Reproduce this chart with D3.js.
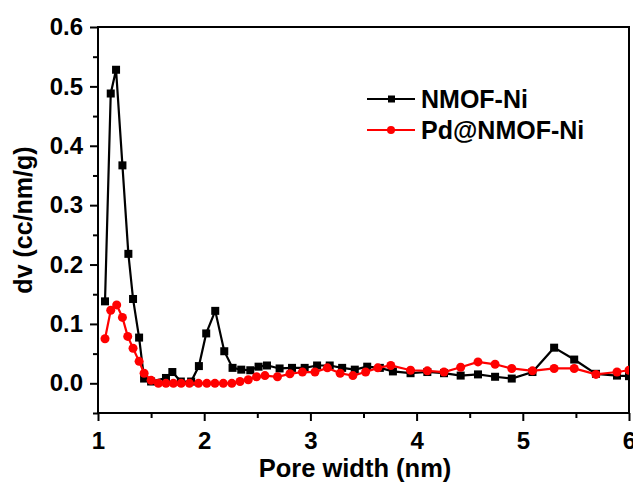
<!DOCTYPE html>
<html>
<head>
<meta charset="utf-8">
<script src="https://cdn.jsdelivr.net/npm/d3@7"></script>
<style>
  body { margin: 0; background: #fff; }
  svg { display: block; }
  text { font-family: "Liberation Sans", Arial, sans-serif; font-weight: bold; fill: #000; }
</style>
</head>
<body>
<svg width="633" height="500"></svg>
<script>
// pore size distribution
const xNmof = [1.066, 1.12, 1.17, 1.23, 1.286, 1.33, 1.387, 1.434, 1.5, 1.64, 1.70, 1.78, 1.877, 1.95, 2.019, 2.104, 2.189, 2.267, 2.349, 2.434, 2.512, 2.591, 2.71, 2.827, 2.946, 3.063, 3.182, 3.299, 3.418, 3.535, 3.654, 3.777, 3.943, 4.101, 4.258, 4.415, 4.578, 4.739, 4.896, 5.091, 5.295, 5.484, 5.689, 5.887, 6.0];
const yNmof = [0.138, 0.488, 0.528, 0.367, 0.218, 0.142, 0.077, 0.008, 0.003, 0.009, 0.019, 0.003, 0.003, 0.029, 0.084, 0.122, 0.054, 0.026, 0.023, 0.022, 0.028, 0.030, 0.025, 0.026, 0.026, 0.030, 0.030, 0.026, 0.023, 0.028, 0.026, 0.020, 0.017, 0.019, 0.017, 0.013, 0.015, 0.011, 0.008, 0.019, 0.060, 0.040, 0.016, 0.013, 0.012];

const xPd = [1.066, 1.12, 1.176, 1.23, 1.28, 1.33, 1.387, 1.434, 1.5, 1.569, 1.64, 1.71, 1.783, 1.861, 1.946, 2.025, 2.101, 2.18, 2.26, 2.337, 2.415, 2.493, 2.572, 2.69, 2.807, 2.925, 3.043, 3.16, 3.28, 3.4, 3.52, 3.635, 3.757, 3.943, 4.101, 4.258, 4.415, 4.578, 4.739, 4.896, 5.091, 5.295, 5.484, 5.689, 5.887, 6.0];
const yPd = [0.075, 0.123, 0.132, 0.111, 0.079, 0.059, 0.037, 0.017, 0.005, 0, 0, 0, 0, 0, 0, 0, 0, 0, 0, 0.003, 0.006, 0.011, 0.013, 0.011, 0.016, 0.019, 0.019, 0.026, 0.017, 0.013, 0.019, 0.026, 0.030, 0.022, 0.021, 0.019, 0.027, 0.036, 0.032, 0.025, 0.021, 0.025, 0.025, 0.015, 0.019, 0.022];

const xTicks = [1, 2, 3, 4, 5, 6];
const xMinor = [1.5, 2.5, 3.5, 4.5, 5.5];
const yTicks = [0.0, 0.1, 0.2, 0.3, 0.4, 0.5, 0.6];
const yMinor = [-0.05, 0.05, 0.15, 0.25, 0.35, 0.45, 0.55];

const series = [
  { name: "NMOF-Ni", xs: xNmof, ys: yNmof, color: "#000", shape: "square" },
  { name: "Pd@NMOF-Ni", xs: xPd, ys: yPd, color: "#ff0000", shape: "circle" }
];

const svg = d3.select("svg");
const plotLeft = 98, plotRight = 629, plotTop = 27, plotBottom = 413;

let x = d3.scaleLinear().domain([1, 6]).range([plotLeft, plotRight]);
let y = d3.scaleLinear().domain([-0.05, 0.6]).range([plotBottom, plotTop]);

svg.append("clipPath").attr("id", "plot")
  .append("rect")
  .attr("x", plotLeft).attr("y", plotTop)
  .attr("width", plotRight - plotLeft).attr("height", plotBottom - plotTop);

// axes: major ticks with labels, minor ticks without
svg.append("g").attr("transform", `translate(0,${plotBottom})`)
  .call(d3.axisBottom(x).tickValues(xTicks).tickFormat(d3.format("d")).tickSize(8).tickPadding(11));
svg.append("g").attr("transform", `translate(0,${plotBottom})`)
  .call(d3.axisBottom(x).tickValues(xMinor).tickFormat("").tickSize(5));

svg.append("g").attr("transform", `translate(${plotLeft},0)`)
  .call(d3.axisLeft(y).tickValues(yTicks).tickFormat(d3.format(".1f")).tickSize(8).tickPadding(7));
svg.append("g").attr("transform", `translate(${plotLeft},0)`)
  .call(d3.axisLeft(y).tickValues(yMinor).tickFormat("").tickSize(5));

svg.selectAll(".domain").remove();
svg.selectAll(".tick line").attr("stroke", "#000").attr("stroke-width", 2);
svg.selectAll(".tick text").style("font-size", "24px");

// frame
svg.append("rect")
  .attr("x", plotLeft).attr("y", plotTop)
  .attr("width", plotRight - plotLeft).attr("height", plotBottom - plotTop)
  .attr("fill", "none").attr("stroke", "#000").attr("stroke-width", 2);

// lines and markers
let line = d3.line().x(d => x(d[0])).y(d => y(d[1]));

series.forEach(s => {
  let pts = s.xs.map((v, i) => [v, s.ys[i]]);
  let g = svg.append("g").attr("clip-path", "url(#plot)");
  g.append("path")
    .datum(pts)
    .attr("d", line)
    .attr("fill", "none")
    .attr("stroke", s.color)
    .attr("stroke-width", 2.2);
  if (s.shape === "square") {
    g.selectAll("rect").data(pts).enter().append("rect")
      .attr("x", d => x(d[0]) - 4).attr("y", d => y(d[1]) - 4)
      .attr("width", 8).attr("height", 8)
      .attr("fill", s.color);
  } else {
    g.selectAll("circle").data(pts).enter().append("circle")
      .attr("cx", d => x(d[0])).attr("cy", d => y(d[1]))
      .attr("r", 4.5)
      .attr("fill", s.color);
  }
});

// axis titles
svg.append("text")
  .attr("x", 355).attr("y", 477)
  .attr("text-anchor", "middle")
  .style("font-size", "25.5px")
  .text("Pore width (nm)");

svg.append("text")
  .attr("transform", `translate(32,${(plotTop + plotBottom) / 2}) rotate(-90)`)
  .attr("text-anchor", "middle")
  .style("font-size", "25px")
  .text("dv (cc/nm/g)");

// legend
let legend = svg.append("g");
series.forEach((s, i) => {
  let ly = 99 + i * 31;
  legend.append("line")
    .attr("x1", 367).attr("x2", 415).attr("y1", ly).attr("y2", ly)
    .attr("stroke", s.color).attr("stroke-width", 2.2);
  if (s.shape === "square") {
    legend.append("rect").attr("x", 388).attr("y", ly - 3.5).attr("width", 7).attr("height", 7).attr("fill", s.color);
  } else {
    legend.append("circle").attr("cx", 391).attr("cy", ly).attr("r", 4).attr("fill", s.color);
  }
  legend.append("text")
    .attr("x", 421).attr("y", ly + 9)
    .style("font-size", "25px")
    .text(s.name);
});
</script>
</body>
</html>
